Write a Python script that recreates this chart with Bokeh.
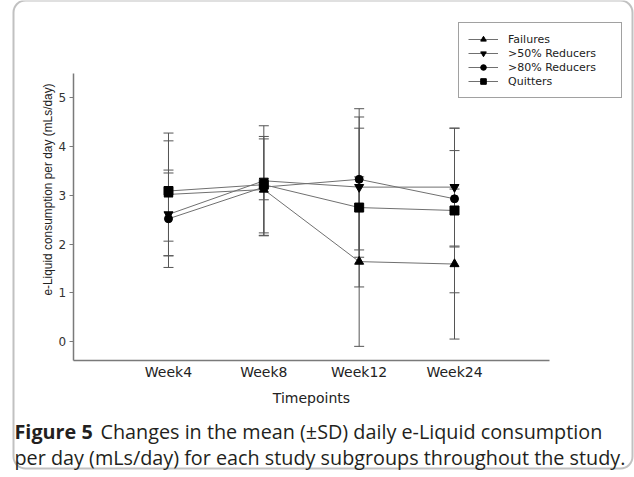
import math
from bokeh.plotting import figure
from bokeh.models import (Range1d, FixedTicker, Legend, LegendItem, Label,
                          BoxAnnotation, ColumnDataSource)
from bokeh.embed import file_html
from bokeh.resources import INLINE

# ---- data ----
timepoints = ["Week4", "Week8", "Week12", "Week24"]
groups = ["Failures", ">50% Reducers", ">80% Reducers", "Quitters"]
failures_mean = [3.02, 3.12, 1.64, 1.59]
failures_sd = [1.26, 0.21, 1.74, 1.54]
red50_mean = [2.61, 3.30, 3.17, 3.17]
red50_sd = [0.85, 1.13, 1.44, 1.21]
red80_mean = [2.52, 3.17, 3.33, 2.93]
red80_sd = [1.00, 0.99, 1.45, 0.99]
quit_mean = [3.09, 3.22, 2.75, 2.69]
quit_sd = [1.03, 0.99, 1.63, 1.69]
y_ticks = [0, 1, 2, 3, 4, 5]

means = [failures_mean, red50_mean, red80_mean, quit_mean]
sds = [failures_sd, red50_sd, red80_sd, quit_sd]
markers = ["triangle", "inverted_triangle", "circle", "square"]
msizes = [9, 9, 8, 9]

xs = list(range(1, len(timepoints) + 1))

W, H = 634, 477
p = figure(width=W, height=H, output_backend="svg", toolbar_location=None,
           x_range=Range1d(-0.762, 5.888), y_range=Range1d(-2.793, 7.002),
           min_border=0, min_border_left=0, min_border_right=0,
           min_border_top=0, min_border_bottom=0)
p.outline_line_color = None
p.xgrid.visible = False
p.ygrid.visible = False
p.background_fill_color = "white"
p.border_fill_color = "white"

# error bars
for m, s in zip(means, sds):
    lo = [a - b for a, b in zip(m, s)]
    hi = [a + b for a, b in zip(m, s)]
    src = ColumnDataSource(dict(x=xs, lo=lo, hi=hi))
    p.segment(x0="x", y0="lo", x1="x", y1="hi", source=src,
              line_color="#555555", line_width=1)
    p.scatter(x="x", y="hi", source=src, marker="dash", size=10,
              line_color="#555555", line_width=1)
    p.scatter(x="x", y="lo", source=src, marker="dash", size=10,
              line_color="#555555", line_width=1)

items = []
for g, m, mk, ms in zip(groups, means, markers, msizes):
    src = ColumnDataSource(dict(x=xs, y=m))
    lr = p.line(x="x", y="y", source=src, line_color="#707070", line_width=1)
    sr = p.scatter(x="x", y="y", source=src, marker=mk, size=ms,
                   fill_color="black", line_color="black")
    items.append(LegendItem(label=g, renderers=[lr, sr]))

legend = Legend(items=items, location=(458, 379), orientation="vertical",
                glyph_width=30, glyph_height=14, label_height=14,
                label_width=104, label_standoff=10, spacing=0, padding=9,
                margin=0, border_line_color="#444444", border_line_width=1,
                background_fill_color="white", background_fill_alpha=1,
                label_text_font="DejaVu Sans", label_text_font_size="11px",
                label_text_color="#222222")
p.add_layout(legend, "center")

# axes (fixed inside the full-canvas frame)
p.xaxis.fixed_location = -0.39
p.xaxis.bounds = (0, 5)
p.yaxis.fixed_location = 0
p.yaxis.bounds = (-0.39, 5.5)

p.xaxis.ticker = FixedTicker(ticks=xs)
p.xaxis.major_label_overrides = {x: t for x, t in zip(xs, timepoints)}
p.xaxis.major_tick_out = 0
p.xaxis.major_tick_in = 0
p.xaxis.minor_tick_out = 0
p.xaxis.minor_tick_in = 0
p.xaxis.major_label_standoff = 4
p.xaxis.major_label_text_font = "DejaVu Sans"
p.xaxis.major_label_text_font_size = "14px"
p.xaxis.major_label_text_color = "#222222"
p.xaxis.axis_label = "Timepoints"
p.xaxis.axis_label_text_font = "DejaVu Sans"
p.xaxis.axis_label_text_font_size = "14px"
p.xaxis.axis_label_text_font_style = "normal"
p.xaxis.axis_label_text_color = "#222222"
p.xaxis.axis_label_standoff = 6

p.yaxis.ticker = FixedTicker(ticks=y_ticks)
p.yaxis.major_tick_out = 4
p.yaxis.major_tick_in = 0
p.yaxis.minor_tick_out = 0
p.yaxis.minor_tick_in = 0
p.yaxis.major_label_standoff = 3
p.yaxis.major_label_text_font = "DejaVu Sans"
p.yaxis.major_label_text_font_size = "12px"
p.yaxis.major_label_text_color = "#333333"

for ax in (p.xaxis, p.yaxis):
    ax.axis_line_color = "#7a7a7a"
    ax.axis_line_width = 1.5
    ax.major_tick_line_color = "#7a7a7a"

# y-axis title (placed like the reference, off-centre of the axis line)
p.add_layout(Label(x=47, y=288, x_units="screen", y_units="screen",
                   text="e-Liquid consumption per day (mLs/day)",
                   angle=math.pi / 2, text_align="center",
                   text_baseline="middle", text_font="Liberation Sans",
                   text_font_size="11.9px", text_color="#222222"))

# caption
cap_font = "Open Sans"
cap_size = "19.8px"
p.add_layout(Label(x=14, y=46, x_units="screen", y_units="screen",
                   text="Figure 5", text_font=cap_font, text_font_size=cap_size,
                   text_font_style="bold", text_color="#231f20",
                   text_baseline="alphabetic"))
p.add_layout(Label(x=100, y=46, x_units="screen", y_units="screen",
                   text="Changes in the mean (±SD) daily e-Liquid consumption",
                   text_font=cap_font, text_font_size=cap_size,
                   text_color="#231f20", text_baseline="alphabetic"))
p.add_layout(Label(x=14, y=20, x_units="screen", y_units="screen",
                   text="per day (mLs/day) for each study subgroups throughout the study.",
                   text_font=cap_font, text_font_size=cap_size,
                   text_color="#231f20", text_baseline="alphabetic"))

# outer rounded frame
p.add_layout(BoxAnnotation(left=13, right=632, top=477, bottom=9,
                           left_units="screen", right_units="screen",
                           top_units="screen", bottom_units="screen",
                           fill_alpha=0, line_color="#333333", line_width=2,
                           border_radius=12))

open("out.html", "w").write(file_html(p, INLINE))
